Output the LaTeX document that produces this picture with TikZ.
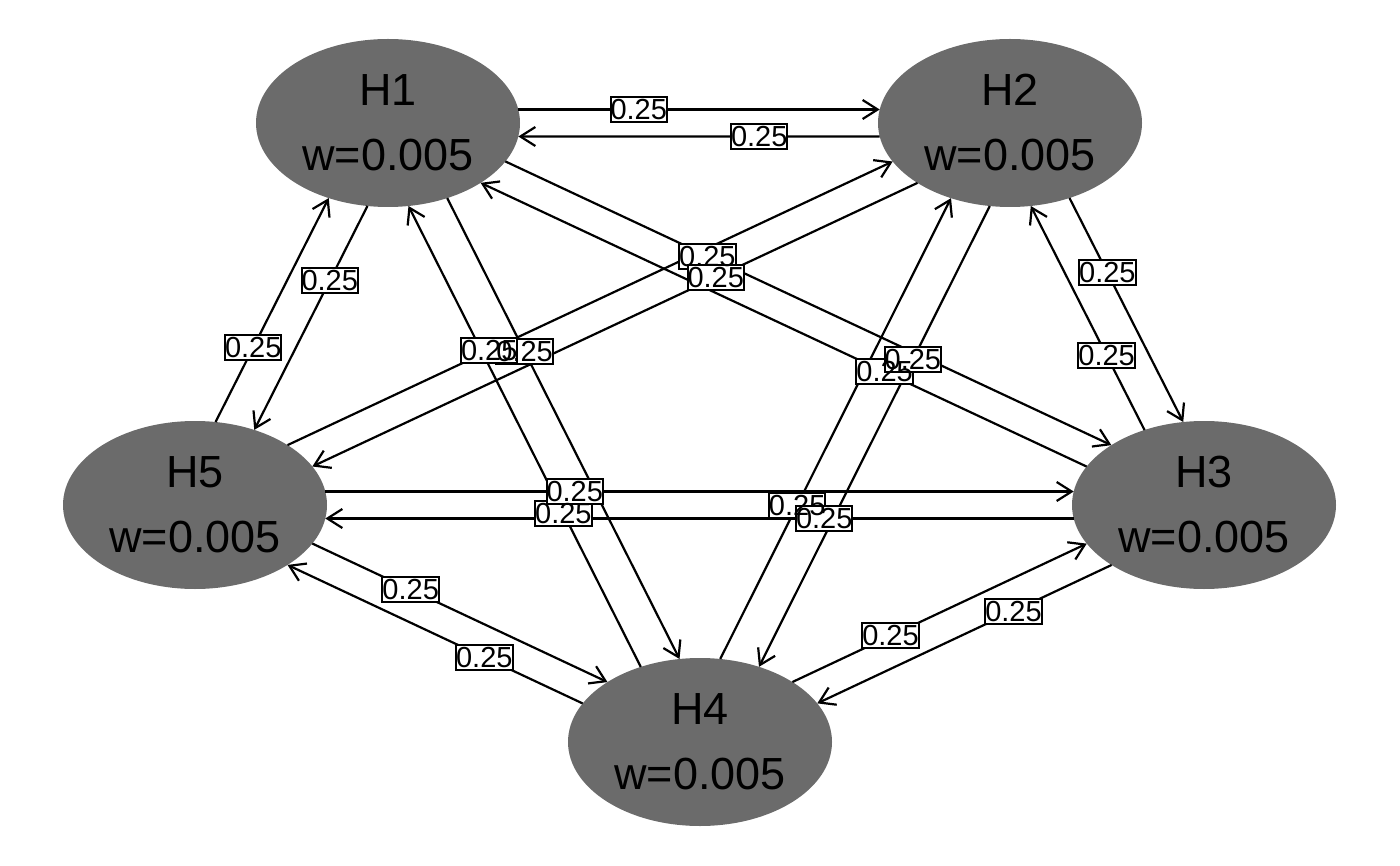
\documentclass[tikz,border=0pt]{standalone}
\usepackage{fontspec}
\setmainfont{Liberation Sans}
\usetikzlibrary{calc,intersections,arrows.meta}
\pgfdeclarelayer{lblbox}
\pgfdeclarelayer{lbltxt}
\pgfsetlayers{main,lblbox,lbltxt}
\definecolor{nodegray}{RGB}{107,107,107}
% aspect factor and base distance used to separate the two arcs of a pair
\newcommand\edgekx{1.5}
\newcommand\edgeoff{13.5}
% \hedge{source}{target}: arc drawn to the left of its direction, clipped at both ellipses,
% weight label one third of the way from the source
\newcommand\hedge[2]{%
  \path let \p1=(#1), \p2=(#2),
        \n1={scalar(veclen((\x2-\x1)/\edgekx,\y2-\y1))},
        \n2={scalar(-\edgekx*(\y2-\y1)/\n1*\edgeoff)},
        \n3={scalar((\x2-\x1)/(\edgekx*\n1)*\edgeoff)}
     in coordinate (o#1#2) at (\n2pt,\n3pt);
  \path[name path=edgeln] ($(#1)+(o#1#2)$) -- ($(#2)+(o#1#2)$);
  \path[name intersections={of=edgeln and p#1, by={a#1#2}}];
  \path[name intersections={of=edgeln and p#2, by={b#1#2}}];
  \draw[link] (a#1#2) -- (b#1#2) coordinate[pos=1/3] (m#1#2);
  \begin{pgfonlayer}{lblbox}
    \node[wbox] (L#1#2) at (m#1#2) {\phantom{0.25}};
  \end{pgfonlayer}
  \begin{pgfonlayer}{lbltxt}
    \node[wtext] (T#1#2) at (m#1#2) {0.25};
  \end{pgfonlayer}%
}
\begin{document}
\begin{tikzpicture}[x=1pt,y=-1pt,
  state/.style={font=\fontsize{45}{65}\selectfont, align=center, inner sep=0pt, text=black},
  link/.style={line width=2.2pt, -{Straight Barb[length=15pt,width=19pt]}},
  wbox/.style={draw=black, fill=white, line width=2pt, inner xsep=0pt, inner ysep=2pt,
               font=\fontsize{29}{30}\selectfont, text height=20.5pt, text depth=0.5pt},
  wtext/.style={wbox, draw=none, fill=none}]
\useasboundingbox (0,0) rectangle (1400,866);

% states
\fill[nodegray, name path=pH1] (388,123) ellipse [x radius=132, y radius=84];
\fill[nodegray, name path=pH2] (1010,123) ellipse [x radius=132, y radius=84];
\fill[nodegray, name path=pH3] (1204,505) ellipse [x radius=132, y radius=84];
\fill[nodegray, name path=pH4] (700,742) ellipse [x radius=132, y radius=84];
\fill[nodegray, name path=pH5] (195,505) ellipse [x radius=132, y radius=84];
\node[state] (H1) at (388,123) {H1\\w=0.005};
\node[state] (H2) at (1010,123) {H2\\w=0.005};
\node[state] (H3) at (1204,505) {H3\\w=0.005};
\node[state] (H4) at (700,742) {H4\\w=0.005};
\node[state] (H5) at (195,505) {H5\\w=0.005};

% transitions
\hedge{H1}{H2}\hedge{H2}{H1}
\hedge{H1}{H3}\hedge{H3}{H1}
\hedge{H1}{H4}\hedge{H4}{H1}
\hedge{H1}{H5}\hedge{H5}{H1}
\hedge{H2}{H3}\hedge{H3}{H2}
\hedge{H2}{H4}\hedge{H4}{H2}
\hedge{H2}{H5}\hedge{H5}{H2}
\hedge{H3}{H4}\hedge{H4}{H3}
\hedge{H3}{H5}\hedge{H5}{H3}
\hedge{H4}{H5}\hedge{H5}{H4}
\end{tikzpicture}
\end{document}
